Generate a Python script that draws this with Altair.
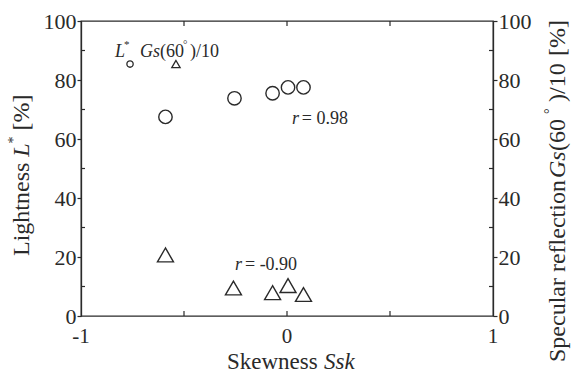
import altair as alt
import pandas as pd

# Lightness L* [%] against skewness Ssk (circles, left axis)
ssk_L = [-0.59, -0.255, -0.07, 0.005, 0.08]
lightness = [67.5, 73.8, 75.5, 77.5, 77.5]

# Specular reflection Gs(60°)/10 [%] against skewness Ssk (triangles, right axis)
ssk_G = [-0.59, -0.26, -0.07, 0.005, 0.08]
gloss = [20.7, 9.5, 7.9, 10.3, 7.3]

x_ticks = [-1, 0, 1]
x_labels = ["-1", "0", "1"]
x_minor = [-0.5, 0, 0.5]
y_ticks = [0, 20, 40, 60, 80, 100]
y_minor = [10, 30, 50, 70, 90]

SERIF = "Liberation Serif"
INK = "#2a2a2a"
W, H = 412, 295

X = alt.Scale(domain=[-1, 1], nice=False, zero=False)
Y = alt.Scale(domain=[0, 100], nice=False, zero=False)


def xq(field):
    return alt.X(f"{field}:Q", scale=X, axis=None)


def yq(field):
    return alt.Y(f"{field}:Q", scale=Y, axis=None)


df_L = pd.DataFrame({"ssk": ssk_L, "v": lightness})
df_G = pd.DataFrame({"ssk": ssk_G, "v": gloss})

circles = alt.Chart(df_L).mark_point(
    shape="circle", size=180, filled=False, color=INK, strokeWidth=1.4, opacity=1
).encode(
    x=xq("ssk"),
    y=alt.Y("v:Q", scale=Y, axis=alt.Axis(
        values=y_ticks, tickSize=4, labelPadding=1, title=None, grid=False)),
)

triangles = alt.Chart(df_G).mark_point(
    shape="triangle-up", size=256, filled=False, color=INK, strokeWidth=1.4, opacity=1
).encode(
    x=xq("ssk"),
    y=alt.Y("v:Q", scale=Y, axis=alt.Axis(
        orient="right", values=y_ticks, tickSize=4, labelPadding=1, title=None, grid=False)),
)

# x tick labels under the frame
x_tick_text = alt.Chart(pd.DataFrame({"x": x_ticks, "t": x_labels})).mark_text(
    font=SERIF, fontSize=21, align="center", baseline="alphabetic", color=INK
).encode(x=xq("x"), y=alt.value(H + 27), text="t:N")

# Legend key symbols
leg_c = alt.Chart(pd.DataFrame({"x": [-0.762], "y": [85.4]})).mark_point(
    shape="circle", size=40, filled=False, color=INK, strokeWidth=1.3, opacity=1
).encode(x=xq("x"), y=yq("y"))
leg_t = alt.Chart(pd.DataFrame({"x": [-0.539], "y": [85.4]})).mark_point(
    shape="triangle-up", size=70, filled=False, color=INK, strokeWidth=1.3, opacity=1
).encode(x=xq("x"), y=yq("y"))

# Inward minor ticks
df_xm = pd.DataFrame({"t": x_minor})
df_ym = pd.DataFrame({"t": y_minor})
tick_style = dict(color=INK, strokeWidth=1.2)
ticks = [
    alt.Chart(df_xm).mark_rule(**tick_style).encode(x=xq("t"), y=alt.value(H), y2=alt.value(H - 5)),
    alt.Chart(df_xm).mark_rule(**tick_style).encode(x=xq("t"), y=alt.value(0), y2=alt.value(5)),
    alt.Chart(df_ym).mark_rule(**tick_style).encode(y=yq("t"), x=alt.value(0), x2=alt.value(4)),
    alt.Chart(df_ym).mark_rule(**tick_style).encode(y=yq("t"), x=alt.value(W), x2=alt.value(W - 4)),
]

# In-plot annotations: (text, x, y, font size, italic)
notes = [
    ("L", -0.835, 89.5, 18, True),
    ("*", -0.791, 92.0, 11, False),
    ("Gs", -0.714, 89.5, 18, True),
    ("(60", -0.617, 89.5, 18, False),
    ("°", -0.505, 92.0, 11, False),
    (")/10", -0.471, 89.5, 18, False),
    ("r", 0.024, 66.8, 18, True),
    ("= 0.98", 0.072, 66.8, 18, False),
    ("r", -0.252, 17.3, 18, True),
    ("= -0.90", -0.204, 17.3, 18, False),
]
note_layers = []
for txt, nx, ny, fs, it in notes:
    note_layers.append(
        alt.Chart(pd.DataFrame({"t": [txt], "x": [nx], "y": [ny]})).mark_text(
            font=SERIF, fontSize=fs, fontStyle="italic" if it else "normal",
            align="left", baseline="middle", color=INK
        ).encode(x=xq("x"), y=yq("y"), text="t:N")
    )

# Axis titles built from pieces so italic symbols can be mixed in:
# (text, px, py, angle, font size, italic)
title_pieces = [
    ("Lightness", -59, 235, 270, 24, False),
    ("L", -59, 135.7, 270, 24, True),
    ("*", -67, 122.4, 270, 14, False),
    ("[%]", -59, 109.4, 270, 24, False),
    ("Skewness", 146, 348, 0, 23, False),
    ("Ssk", 243, 348, 0, 23, True),
    ("Specular reflection", 477, 341, 270, 24, False),
    ("Gs", 477, 157, 270, 24, True),
    ("(60", 477, 130, 270, 24, False),
    ("°", 469, 93, 270, 14, False),
    (")/10", 477, 81, 270, 24, False),
    ("[%]", 477, 35, 270, 24, False),
]
title_layers = []
for txt, px, py, ang, fs, it in title_pieces:
    title_layers.append(
        alt.Chart(pd.DataFrame({"t": [txt]})).mark_text(
            font=SERIF, fontSize=fs, fontStyle="italic" if it else "normal",
            align="left", baseline="middle" if ang else "alphabetic", angle=ang, color=INK
        ).encode(x=alt.value(px), y=alt.value(py), text="t:N")
    )

chart = alt.layer(
    circles, triangles, x_tick_text, leg_c, leg_t, *ticks, *note_layers, *title_layers
).resolve_axis(y="independent").properties(
    width=W, height=H,
    autosize=alt.AutoSizeParams(type="none"),
    padding={"left": 81, "top": 21, "right": 86, "bottom": 60},
    background="white",
).configure_view(
    stroke=INK, strokeWidth=1.3
).configure_axis(
    domainColor=INK, domainWidth=1.3, tickColor=INK, tickWidth=1.2,
    labelFont=SERIF, labelFontSize=22, labelColor=INK,
)

chart.save("out.html", embed_options={"renderer": "svg", "actions": False})
